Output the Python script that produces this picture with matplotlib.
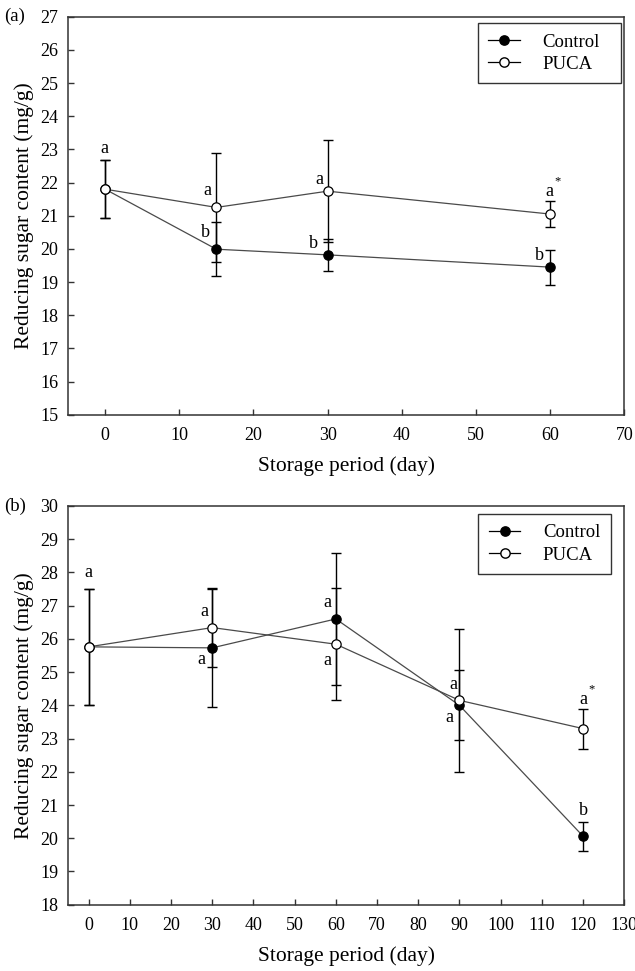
import numpy as np
import matplotlib
matplotlib.use("Agg")
import matplotlib.pyplot as plt

plt.rcParams['font.family'] = ['Liberation Serif', 'DejaVu Serif']

# (a) storage up to 60 days
days_a = [0, 15, 30, 60]
control_a = [21.80, 19.99, 19.82, 19.45]
control_a_err = [0.87, 0.81, 0.48, 0.53]
puca_a = [21.80, 21.25, 21.74, 21.05]
puca_a_err = [0.87, 1.65, 1.54, 0.39]
control_a_letters = ['', 'b', 'b', 'b']
puca_a_letters = ['a', 'a', 'a', 'a']
puca_a_star = [False, False, False, True]

# (b) storage up to 120 days
days_b = [0, 30, 60, 90, 120]
control_b = [25.76, 25.73, 26.60, 24.00, 20.06]
control_b_err = [1.75, 1.77, 2.00, 1.05, 0.44]
puca_b = [25.76, 26.34, 25.84, 24.15, 23.30]
puca_b_err = [1.75, 1.18, 1.68, 2.15, 0.60]
control_b_letters = ['', 'a', 'a', 'a', 'b']
puca_b_letters = ['a', 'a', 'a', 'a', 'a']
puca_b_star = [False, False, False, False, True]

# label offsets in pixels (dx, dy) relative to each point
offs_ctrl_a = [(0, 0), (-11, 17), (-14, 11), (-11, 12)]
offs_puca_a = [(-1, 41), (-9, 17), (-8, 12), (-1, 23)]
offs_ctrl_b = [(0, 0), (-11, -12), (-8, 16), (-10, -12), (0, 26)]
offs_puca_b = [(0, 74), (-8, 16), (-8, -16), (-6, 16), (0, 29)]

line_col = '#4a4a4a'


def draw_panel(ax, days, ctrl, ctrl_err, puca, puca_err):
    ax.plot(days, ctrl, '-', color=line_col, lw=0.9, zorder=2)
    ax.plot(days, puca, '-', color=line_col, lw=0.9, zorder=2)
    ax.errorbar(days, ctrl, yerr=ctrl_err, fmt='none', ecolor='black',
                elinewidth=1.0, capsize=3.7, capthick=1.0, zorder=3)
    ax.errorbar(days, puca, yerr=puca_err, fmt='none', ecolor='black',
                elinewidth=1.0, capsize=3.7, capthick=1.0, zorder=3)
    ax.plot(days, ctrl, 'o', color='black', ms=6.7, mec='black', mew=0.9,
            zorder=4)
    ax.plot(days, puca, 'o', color='white', ms=6.7, mec='black', mew=0.9,
            zorder=5)
    hc, = ax.plot([], [], '-o', color='black', mfc='black', mec='black',
                  ms=6.7, lw=0.9)
    hp, = ax.plot([], [], '-o', color='black', mfc='white', mec='black',
                  ms=6.7, lw=0.9)
    return hc, hp


def add_letters(ax, days, vals, letters, offs, stars=None):
    for i, (d, v, t) in enumerate(zip(days, vals, letters)):
        if not t:
            continue
        dx, dy = offs[i]
        ax.annotate(t, (d, v), xytext=(dx, dy), textcoords='offset pixels',
                    ha='center', va='center', fontsize=13, zorder=6)
        if stars is not None and stars[i]:
            ax.annotate('*', (d, v), xytext=(dx + 8, dy + 10),
                        textcoords='offset pixels', ha='center',
                        va='center', fontsize=9, zorder=6)


def style_axis(ax):
    for s in ax.spines.values():
        s.set_color('#333333')
        s.set_linewidth(1.1)
    ax.tick_params(direction='in', length=4.2, width=1.0, color='#333333',
                   labelsize=13, top=False, right=False)
    ax.tick_params(axis='y', pad=7)
    ax.tick_params(axis='x', pad=9)
    ax.set_xlabel('Storage period (day)', fontsize=15.5)
    ax.set_ylabel('Reducing sugar content (mg/g)', fontsize=15.5)
    ax.xaxis.set_label_coords(0.5, -0.104)
    ax.yaxis.set_label_coords(-0.062, 0.5)


def add_legend(ax, handles, box):
    leg = ax.legend(handles, ['Control', 'PUCA'], loc='upper right',
                    bbox_to_anchor=box, mode='expand', borderaxespad=0,
                    fontsize=13.5, fancybox=False, edgecolor='#333333',
                    framealpha=1, handlelength=1.7, labelspacing=0.27,
                    handletextpad=1.2, borderpad=0.55)
    leg.get_frame().set_linewidth(1.0)


fig = plt.figure(figsize=(6.35, 9.71), dpi=100)

ax1 = fig.add_axes([0.1071, 0.5729, 0.8760, 0.4099])
hc, hp = draw_panel(ax1, days_a, control_a, control_a_err, puca_a, puca_a_err)
add_letters(ax1, days_a, control_a, control_a_letters, offs_ctrl_a)
add_letters(ax1, days_a, puca_a, puca_a_letters, offs_puca_a, puca_a_star)
ax1.set_xlim(-5, 70)
ax1.set_ylim(15, 27)
ax1.set_xticks(np.arange(0, 71, 10))
ax1.set_yticks(np.arange(15, 28, 1))
style_axis(ax1)
add_legend(ax1, [hc, hp], (0.7365, 0.5, 0.257, 0.484))

ax2 = fig.add_axes([0.1071, 0.0683, 0.8760, 0.4106])
hc, hp = draw_panel(ax2, days_b, control_b, control_b_err, puca_b, puca_b_err)
add_letters(ax2, days_b, control_b, control_b_letters, offs_ctrl_b)
add_letters(ax2, days_b, puca_b, puca_b_letters, offs_puca_b, puca_b_star)
ax2.set_xlim(-5, 130)
ax2.set_ylim(18, 30)
ax2.set_xticks(np.arange(0, 131, 10))
ax2.set_yticks(np.arange(18, 31, 1))
style_axis(ax2)
add_legend(ax2, [hc, hp], (0.7375, 0.5, 0.2385, 0.48))

fig.text(0.006, 0.983, '(a)', fontsize=13.5, ha='left', va='center')
fig.text(0.006, 0.479, '(b)', fontsize=13.5, ha='left', va='center')

fig.savefig('out.png', dpi=100)
